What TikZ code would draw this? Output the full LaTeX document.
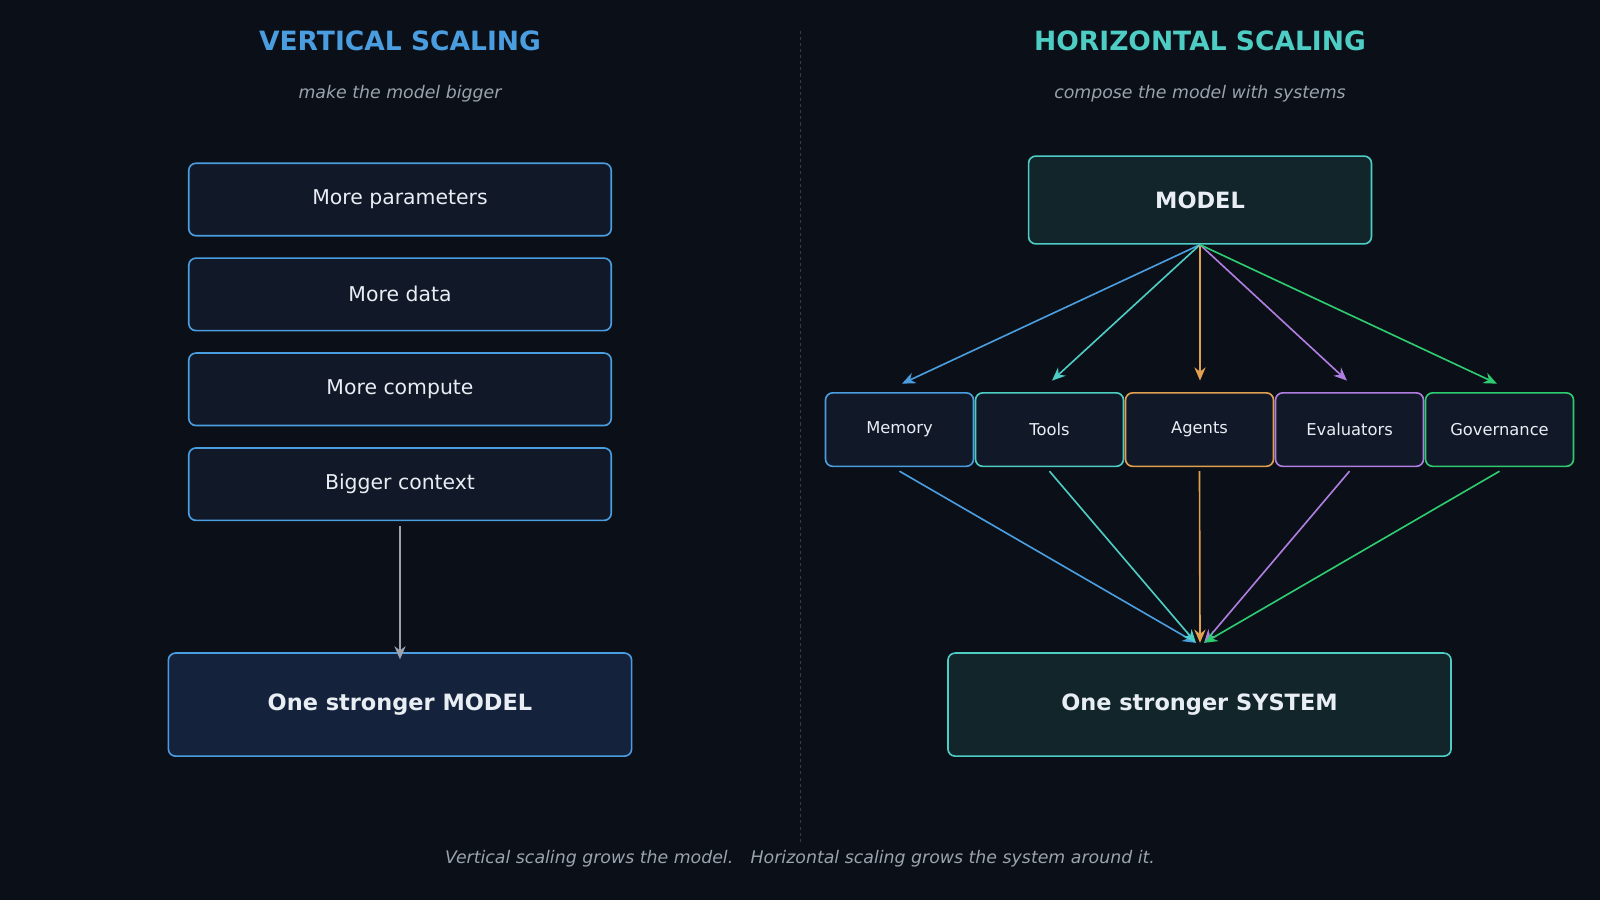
\documentclass[tikz,border=0pt]{standalone}
\usepackage{fontspec}
\setmainfont{DejaVu Sans}
\usetikzlibrary{arrows.meta}
\definecolor{bg}{HTML}{0B0F17}
\definecolor{cb}{HTML}{4A9EE0}
\definecolor{ct}{HTML}{4ECDC4}
\definecolor{co}{HTML}{E0A050}
\definecolor{cp}{HTML}{B07EE0}
\definecolor{cg}{HTML}{2ECC71}
\definecolor{boxf}{HTML}{111827}
\definecolor{mf}{HTML}{14233B}
\definecolor{tf}{HTML}{12252B}
\definecolor{sub}{HTML}{9AA3AE}
\definecolor{txt}{HTML}{E8EEF4}
\begin{document}
\begin{tikzpicture}[x=1pt,y=-1pt,
 box/.style={draw=cb,line width=1.6pt,fill=boxf,rounded corners=7pt,text=txt,font=\fontsize{20}{24}\selectfont,minimum width=414pt,minimum height=71pt},
 sm/.style={line width=1.6pt,fill=boxf,rounded corners=7pt,text=txt,font=\fontsize{16}{20}\selectfont,minimum width=145pt,minimum height=72pt},
 arr/.style={line width=1.6pt,-{Stealth[length=13pt,width=11pt]}}]
\fill[bg] (0,0) rectangle (1568,882);
\useasboundingbox (0,0) rectangle (1568,882);
\node[text=cb,font=\bfseries\fontsize{26}{30}\selectfont] (t1) at (392,40) {VERTICAL SCALING};
\node[text=sub,font=\itshape\fontsize{17}{20}\selectfont] (s1) at (392,92) {make the model bigger};
\node[text=ct,font=\bfseries\fontsize{26}{30}\selectfont] (t2) at (1176,40) {HORIZONTAL SCALING};
\node[text=sub,font=\itshape\fontsize{17}{20}\selectfont] (s2) at (1176,92) {compose the model with systems};
\draw[dashed,draw=sub!30!bg,line width=1pt] (784,30) coordinate (d1) -- (784,825) coordinate (d2);
\node[box] (b1) at (392,195.5) {More parameters};
\node[box] (b2) at (392,288.5) {More data};
\node[box] (b3) at (392,381.5) {More compute};
\node[box] (b4) at (392,474.5) {Bigger context};
\node[box,fill=mf,minimum width=454pt,minimum height=101pt,font=\bfseries\fontsize{22}{26}\selectfont] (bm) at (392,690.5) {One stronger MODEL};
\draw[arr,sub] (b4.south)++(0,5) coordinate (a0) -- ([yshift=-7pt]bm.north);
\node[box,draw=ct,fill=tf,minimum width=336pt,minimum height=86pt,font=\bfseries\fontsize{22}{26}\selectfont] (m) at (1176,196) {MODEL};
\node[sm,draw=cb] (n1) at (881.5,421) {Memory};
\node[sm,draw=ct] (n2) at (1028.5,421) {Tools};
\node[sm,draw=co] (n3) at (1175.5,421) {Agents};
\node[sm,draw=cp] (n4) at (1322.5,421) {Evaluators};
\node[sm,draw=cg] (n5) at (1469.5,421) {Governance};
\node[box,draw=ct,fill=tf,minimum width=493pt,minimum height=101pt,font=\bfseries\fontsize{22}{26}\selectfont] (sy) at (1175.5,690.5) {One stronger SYSTEM};
\draw[arr,cb] (m.south) -- (884,376);
\draw[arr,ct] (m.south) -- (1031,373);
\draw[arr,co] (m.south) -- (1176,373);
\draw[arr,cp] (m.south) -- (1320,373);
\draw[arr,cg] (m.south) -- (1467,376);
\draw[arr,cb] ([yshift=-4pt]n1.south) -- (1172,630);
\draw[arr,ct] ([yshift=-4pt]n2.south) -- (1172,630);
\draw[arr,co] ([yshift=-4pt]n3.south) -- (1176,630);
\draw[arr,cp] ([yshift=-4pt]n4.south) -- (1180,630);
\draw[arr,cg] ([yshift=-4pt]n5.south) -- (1180,630);
\node[text=sub,font=\itshape\fontsize{17}{20}\selectfont] (f) at (784,842) {Vertical scaling grows the model.\quad Horizontal scaling grows the system around it.};
\end{tikzpicture}
\end{document}
